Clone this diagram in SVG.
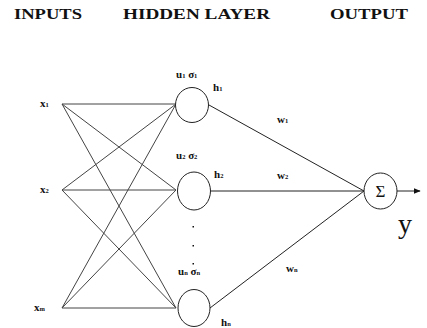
<svg xmlns="http://www.w3.org/2000/svg" width="427" height="328" viewBox="0 0 427 328">
<defs>
<style>
.hdr{font-family:"Liberation Serif",serif;font-weight:bold;font-size:14.5px;fill:#111}
.lbl{font-family:"Liberation Serif",serif;font-weight:bold;font-size:11px;fill:#111}
.sub{font-size:6.5px}
.node{fill:#fff;stroke:#222;stroke-width:1}
.edge{stroke:#444;stroke-width:1;fill:none}
.out{stroke:#222;stroke-width:1;fill:none}
</style>
<marker id="arr" viewBox="0 0 10 10" refX="9" refY="5" markerWidth="7" markerHeight="7" orient="auto" markerUnits="userSpaceOnUse">
<path d="M0,1 L10,5 L0,9 z" fill="#111"/>
</marker>
</defs>
<rect width="427" height="328" fill="#fff"/>
<g id="headers">
<text class="hdr" x="14" y="19" textLength="68" lengthAdjust="spacingAndGlyphs">INPUTS</text>
<text class="hdr" x="123" y="19" textLength="147" lengthAdjust="spacingAndGlyphs">HIDDEN LAYER</text>
<text class="hdr" x="330" y="19" textLength="78" lengthAdjust="spacingAndGlyphs">OUTPUT</text>
</g>
<g id="connectors">
<line class="edge" x1="62" y1="104" x2="176" y2="104"/>
<line class="edge" x1="62" y1="104" x2="176" y2="190"/>
<line class="edge" x1="62" y1="104" x2="176" y2="308"/>
<line class="edge" x1="62" y1="190" x2="176" y2="104"/>
<line class="edge" x1="62" y1="190" x2="176" y2="190"/>
<line class="edge" x1="62" y1="190" x2="176" y2="308"/>
<line class="edge" x1="62" y1="308" x2="176" y2="104"/>
<line class="edge" x1="62" y1="308" x2="176" y2="190"/>
<line class="edge" x1="62" y1="308" x2="176" y2="308"/>
<line class="out" x1="209" y1="105" x2="364" y2="191"/>
<line class="out" x1="211" y1="191" x2="364" y2="191"/>
<line class="out" x1="210" y1="308" x2="364" y2="191"/>
<line class="out" x1="397" y1="191" x2="420" y2="191" marker-end="url(#arr)"/>
</g>
<g id="x1"><text class="lbl" x="40" y="107">x<tspan class="sub">1</tspan></text></g>
<g id="x2"><text class="lbl" x="40" y="193">x<tspan class="sub">2</tspan></text></g>
<g id="xm"><text class="lbl" x="34" y="311">x<tspan class="sub">m</tspan></text></g>
<g id="h1node">
<ellipse class="node" cx="192" cy="105" rx="16.5" ry="17.5"/>
<text class="lbl" x="176" y="78">u<tspan class="sub">1</tspan> σ<tspan class="sub">1</tspan></text>
<text class="lbl" x="213" y="91">h<tspan class="sub">1</tspan></text>
</g>
<g id="h2node">
<ellipse class="node" cx="194" cy="191" rx="16.5" ry="19"/>
<text class="lbl" x="176" y="159">u<tspan class="sub">2</tspan> σ<tspan class="sub">2</tspan></text>
<text class="lbl" x="214" y="178">h<tspan class="sub">2</tspan></text>
</g>
<g id="dots" fill="#111">
<rect x="192.5" y="226" width="1.5" height="1.5"/>
<rect x="192.5" y="245" width="1.5" height="1.5"/>
<rect x="192.5" y="263" width="1.5" height="1.5"/>
</g>
<g id="hnnode">
<ellipse class="node" cx="194" cy="308" rx="16" ry="18.5"/>
<text class="lbl" x="178" y="275">u<tspan class="sub">n</tspan> σ<tspan class="sub">n</tspan></text>
<text class="lbl" x="221" y="326">h<tspan class="sub">n</tspan></text>
</g>
<g id="weights">
<text class="lbl" x="277" y="123">w<tspan class="sub">1</tspan></text>
<text class="lbl" x="277" y="179">w<tspan class="sub">2</tspan></text>
<text class="lbl" x="286" y="272">w<tspan class="sub">n</tspan></text>
</g>
<g id="output">
<ellipse class="node" cx="380.5" cy="191" rx="16.5" ry="18"/>
<text x="380.5" y="197" text-anchor="middle" font-family="Liberation Serif,serif" font-size="17" fill="#111">Σ</text>
<text x="398" y="233" font-family="Liberation Serif,serif" font-size="28" fill="#111">y</text>
</g>
</svg>
